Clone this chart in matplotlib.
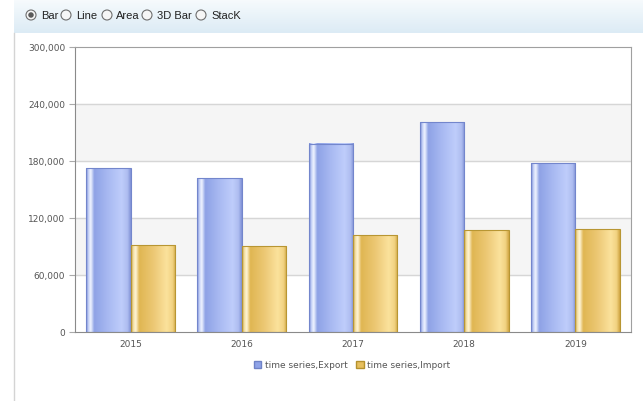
import matplotlib.pyplot as plt
import matplotlib.patches as mpatches
import numpy as np
from matplotlib.ticker import FuncFormatter

# datos
years = ['2015', '2016', '2017', '2018', '2019']
export_vals = [172600, 162100, 197900, 220700, 177600]
import_vals = [91400, 90300, 102100, 107000, 108100]
y_ticks = [0, 60000, 120000, 180000, 240000, 300000]
options = ['Bar', 'Line', 'Area', '3D Bar', 'StacK']


def gradiente(stops, n=64):
    # stops: lista de (posicion, color hex)
    pos = np.array([s[0] for s in stops])
    cols = np.array([[int(c[i:i + 2], 16) / 255 for i in (1, 3, 5)] for _, c in stops])
    x = np.linspace(0, 1, n)
    img = np.stack([np.interp(x, pos, cols[:, k]) for k in range(3)], axis=-1)
    return img[np.newaxis, :, :]


azul = gradiente([(0, '#7f92d8'), (0.05, '#c8d3f8'), (0.1, '#f0f4ff'), (0.18, '#8ea2e6'),
                  (0.5, '#a9baf2'), (0.8, '#bfcdfb'), (0.93, '#aebdf0'), (1, '#8294d8')])
oro = gradiente([(0, '#d9b24e'), (0.05, '#f6e2a8'), (0.1, '#fff5d8'), (0.18, '#e0b652'),
                 (0.5, '#ecc874'), (0.8, '#fbe29c'), (0.93, '#f2d382'), (1, '#d3aa48')])

fig = plt.figure(figsize=(6.43, 4.02), dpi=100)
fig.patch.set_facecolor('white')

# cabecera con los botones
W, H = 643, 402
cab = fig.add_axes([14 / W, 1 - 34 / H, 1 - 14 / W, 34 / H])
cab.imshow(np.transpose(gradiente([(0, '#f7fbfd'), (1, '#dcebf5')]), (1, 0, 2)),
           aspect='auto', extent=[0, 1, 0, 1])
cab.set_axis_off()
fig.add_artist(plt.Line2D([14 / W, 14 / W], [0, 1 - 34 / H], color='#d4d4d4', lw=1))

xs_circ = [31, 66, 107, 147, 201]
xs_txt = [41, 76, 116, 157, 211]
for i, op in enumerate(options):
    cx = xs_circ[i] / W
    cy = 1 - 16 / H
    c = mpatches.Ellipse((cx, cy), 10 / W, 10 / H, transform=fig.transFigure,
                         facecolor='#f6f6f6', edgecolor='#6e6e6e', lw=0.8)
    fig.add_artist(c)
    if i == 0:
        fig.add_artist(mpatches.Ellipse((cx, cy), 5.5 / W, 5.5 / H, transform=fig.transFigure,
                                        facecolor='#5a5a5a', edgecolor='none'))
    fig.text(xs_txt[i] / W, cy, op, fontsize=8, family='Liberation Sans',
             color='#222222', va='center', ha='left')

# grafico principal
ax = fig.add_axes([75 / W, 69 / H, 556 / W, 285 / H])
x = np.arange(len(years))
w = 0.4

# bandas grises alternadas
for k in range(len(y_ticks) - 1):
    if k % 2 == 1:
        ax.axhspan(y_ticks[k], y_ticks[k + 1], color='#f5f5f5', zorder=0)
for t in y_ticks[1:-1]:
    ax.axhline(t, color='#d6d6d6', lw=1, zorder=1)

for i in range(len(years)):
    for val, img, off, ec in [(export_vals[i], azul, -w, '#7386cc'),
                              (import_vals[i], oro, 0, '#b89633')]:
        x0 = x[i] + off
        ax.imshow(img, aspect='auto', extent=[x0, x0 + w, 0, val], zorder=2,
                  interpolation='bilinear')
        ax.add_patch(mpatches.Rectangle((x0, 0), w, val, facecolor='none',
                                        edgecolor=ec, lw=0.8, zorder=3))

ax.set_xlim(-0.5, len(years) - 0.5)
ax.set_ylim(0, 300000)
ax.set_xticks(x)
ax.set_xticklabels(years)
ax.set_yticks(y_ticks)
ax.yaxis.set_major_formatter(FuncFormatter(lambda v, p: '{:,.0f}'.format(v)))
ax.tick_params(axis='both', labelsize=6.5, colors='#555555', labelcolor='#555555')
ax.tick_params(axis='x', length=0, pad=5)
ax.tick_params(axis='y', length=4, pad=3, color='#aaaaaa')
for s in ['left', 'bottom']:
    ax.spines[s].set_color('#8a8a8a')
for s in ['top', 'right']:
    ax.spines[s].set_color('#a0a0a0')

handles = [mpatches.Patch(facecolor='#8fa3e8', edgecolor='#6f82c6', label='time series,Export'),
           mpatches.Patch(facecolor='#e6bf5e', edgecolor='#b4912e', label='time series,Import')]
fig.legend(handles=handles, loc='center', bbox_to_anchor=(352 / W, 1 - 366 / H), ncol=2,
           frameon=False, fontsize=6.5, handlelength=0.8, handleheight=0.8,
           handletextpad=0.4, columnspacing=1.0, labelcolor='#555555')

fig.savefig('out.png', dpi=100)
